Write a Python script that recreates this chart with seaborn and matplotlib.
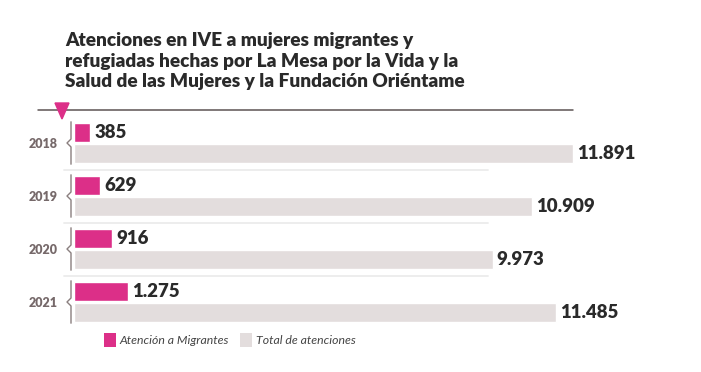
import matplotlib
matplotlib.use("Agg")
import matplotlib.pyplot as plt
import matplotlib.transforms as mtransforms
from matplotlib.patches import Polygon
import seaborn as sns
import pandas as pd

# ---- data ----
years = ["2018", "2019", "2020", "2021"]
migrantes = [385, 629, 916, 1275]
totales = [11891, 10909, 9973, 11485]
series_names = ["Atención a Migrantes", "Total de atenciones"]
title = ("Atenciones en IVE a mujeres migrantes y\n"
         "refugiadas hechas por La Mesa por la Vida y la\n"
         "Salud de las Mujeres y la Fundación Oriéntame")

PINK = "#DC2F88"
GRAY = "#E3DDDD"
TXT = "#2a2a2a"

df = pd.DataFrame({
    "year": years * 2,
    "serie": [series_names[0]] * 4 + [series_names[1]] * 4,
    "valor": migrantes + totales,
})

sns.set_theme(style="white")
plt.rcParams["font.family"] = ["Lato", "DejaVu Sans"]

W, H = 701, 372
fig = plt.figure(figsize=(W / 100, H / 100), dpi=100)
fig.patch.set_facecolor("white")

# axes: left 74px, right 690px; top 110px, bottom 330px
ax_l, ax_r, ax_t, ax_b = 74, 690, 110, 330
ax = fig.add_axes([ax_l / W, 1 - ax_b / H, (ax_r - ax_l) / W, (ax_b - ax_t) / H])

sns.barplot(data=df, y="year", x="valor", hue="serie", hue_order=series_names,
            order=years, palette=[PINK, GRAY], orient="h", width=0.79, gap=0.1,
            dodge=True, ax=ax, legend=True, saturation=1)

px_per_unit = (573 - 74) / 11891
ax.set_xlim(0, (ax_r - ax_l) / px_per_unit)
pitch = 53.0
ax.set_ylim(3 + (ax_b - 302) / pitch, -(143 - ax_t) / pitch)

for s in ax.spines.values():
    s.set_visible(False)
ax.set_xticks([])
ax.set_xlabel("")
ax.set_ylabel("")
ax.tick_params(axis="y", length=0, pad=11.5)
for lab in ax.get_yticklabels():
    lab.set_fontsize(9)
    lab.set_fontweight("heavy")
    lab.set_color("#76696a")

# value labels
fmt = lambda v: f"{int(v):,}".replace(",", ".")
for cont in ax.containers:
    ax.bar_label(cont, labels=[fmt(v) for v in cont.datavalues], padding=3,
                 fontsize=13.4, fontweight="heavy", color=TXT)

# legend
handles, labels = ax.get_legend_handles_labels()
if ax.get_legend() is not None:
    ax.get_legend().remove()
leg = fig.legend(handles, labels, loc="center left",
                 bbox_to_anchor=(104 / W, 1 - 340 / H), bbox_transform=fig.transFigure,
                 ncol=2, frameon=False, borderpad=0, borderaxespad=0,
                 handlelength=1.0, handleheight=1.3, handletextpad=0.3,
                 columnspacing=0.9, prop={"family": "Lato", "style": "italic", "size": 8.8})
for t in leg.get_texts():
    t.set_color("#444444")
for h in leg.legend_handles:
    h.set_edgecolor("none")

ax_w = ax_r - ax_l
blend = mtransforms.blended_transform_factory(ax.transAxes, ax.transData)

# separators between groups
for i in range(len(years) - 1):
    ax.axhline(i + 0.5, xmin=(64 - ax_l) / ax_w, xmax=(488 - ax_l) / ax_w,
               color="#ececec", lw=1.3, clip_on=False, zorder=0)

# top dark rule
ax.axhline(ax.get_ylim()[1], xmin=(38 - ax_l) / ax_w, xmax=(573 - ax_l) / ax_w,
           color="#5d5353", lw=1.1, clip_on=False)

# brace marks
bx = (71 - ax_l) / ax_w
nx = (67 - ax_l) / ax_w
for i in range(len(years)):
    ys = [i - 0.40, i - 0.075, i, i + 0.075, i + 0.40]
    xs = [bx, bx, nx, bx, bx]
    ax.plot(xs, ys, transform=blend, color="#8a7f7f", lw=1.0, clip_on=False)

# triangle marker
tri = [(55, 103), (69, 103), (62, 119)]
fig.add_artist(Polygon([(x / W, 1 - y / H) for x, y in tri], closed=True,
                       transform=fig.transFigure, color=PINK))

# title
fig.text(65 / W, 1 - 32 / H, title, ha="left", va="top", fontsize=13.7,
         fontweight="heavy", color=TXT, linespacing=1.25)

fig.savefig("out.png", dpi=100, facecolor="white")
